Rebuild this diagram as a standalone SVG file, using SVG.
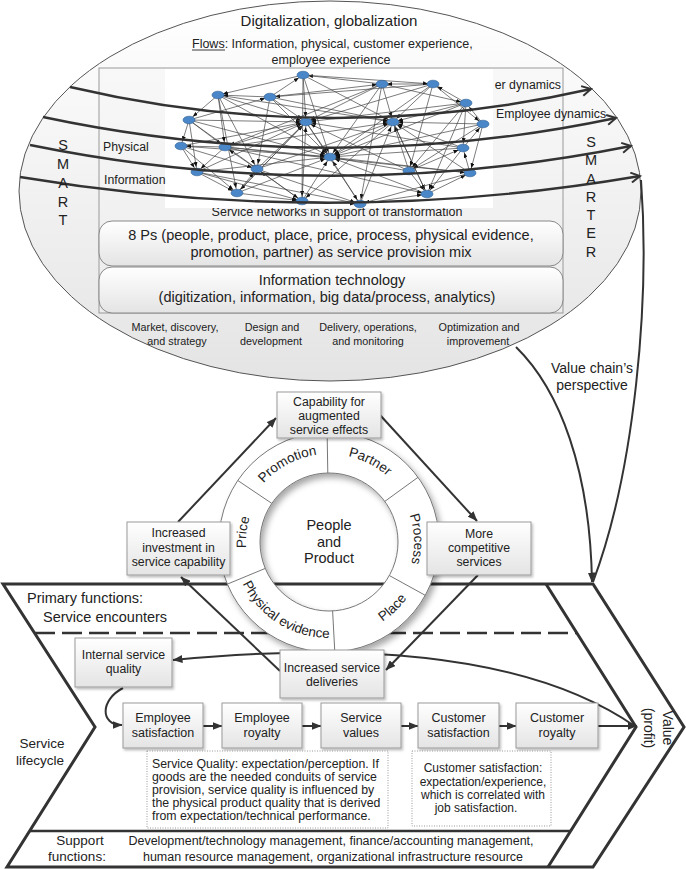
<svg xmlns="http://www.w3.org/2000/svg" width="686" height="869" viewBox="0 0 686 869">
<defs>
<linearGradient id="eg" x1="0" y1="0" x2="0" y2="1"><stop offset="0" stop-color="#ffffff"/><stop offset="1" stop-color="#e4e4e4"/></linearGradient>
<linearGradient id="fg" x1="0" y1="0" x2="0" y2="1"><stop offset="0" stop-color="#f8f8f8"/><stop offset="1" stop-color="#ececec"/></linearGradient>
<linearGradient id="bx" x1="0" y1="0" x2="0" y2="1"><stop offset="0" stop-color="#ffffff"/><stop offset="1" stop-color="#e4e4e4"/></linearGradient>
<filter id="sh" x="-10%" y="-10%" width="130%" height="140%"><feDropShadow dx="1.5" dy="2" stdDeviation="1.2" flood-color="#000" flood-opacity="0.25"/></filter>
<filter id="rsh" x="-10%" y="-10%" width="130%" height="130%"><feDropShadow dx="3" dy="4" stdDeviation="3" flood-color="#000" flood-opacity="0.35"/></filter>
<marker id="ah" viewBox="0 0 10 8" refX="9.5" refY="4" markerWidth="10" markerHeight="8" markerUnits="userSpaceOnUse" orient="auto"><path d="M0,0 L10,4 L0,8 z" fill="#333"/></marker>
<marker id="open" viewBox="0 0 12 12" refX="10" refY="6" markerWidth="12" markerHeight="12" markerUnits="userSpaceOnUse" orient="auto"><path d="M1,1 L10,6 L1,11" fill="none" stroke="#333" stroke-width="2"/></marker>
<marker id="na" viewBox="0 0 5 4" refX="10" refY="2" markerWidth="5" markerHeight="4" markerUnits="userSpaceOnUse" orient="auto"><path d="M0,0 L5,2 L0,4 z" fill="#111"/></marker>
<path id="pPromo" d="M246.3,511.9 A88,88 0 0 1 350.3,456.6"/>
<path id="pPartner" d="M306.2,457.0 A88,88 0 0 1 411.2,510.5"/>
<path id="pPrice" d="M264.0,593.7 A83,83 0 0 1 277.3,477.0"/>
<path id="pProcess" d="M387.0,479.8 A85,85 0 0 1 391.2,600.0"/>
<path id="pPlace" d="M327.3,638.0 A96,96 0 0 0 425.0,543.7"/>
<path id="pPhys" d="M233.1,538.6 A96,96 0 0 0 374.1,626.8"/>
</defs>
<style>
text{font-family:"Liberation Sans",Arial,sans-serif;fill:#222;}
.box{fill:url(#bx);stroke:#999;stroke-width:1;filter:url(#sh);}
.dot{fill:#fff;stroke:#999;stroke-width:1;stroke-dasharray:1 1.5;}
.e path{fill:none;}
.e{stroke:#444;stroke-width:0.7;marker-end:url(#na);}
.n{fill:#4a87c9;stroke:#2f5f93;stroke-width:0.6;}
.flow{fill:none;stroke:#333;stroke-width:2.4;marker-end:url(#open);}
.thick{fill:none;stroke:#333;stroke-width:2;marker-end:url(#ah);}
.chev{fill:none;stroke:#333;stroke-width:3;}
.c{text-anchor:middle;}
</style>
<rect width="686" height="869" fill="#fff"/>

<g id="context">
<ellipse cx="330" cy="191" rx="311" ry="190" fill="url(#eg)" stroke="#555" stroke-width="1"/>
<text class="c" x="329" y="26" font-size="15">Digitalization, globalization</text>
<text x="192" y="48" font-size="12.5">Flows: Information, physical, customer experience,</text>
<line x1="192" y1="50" x2="225" y2="50" stroke="#222" stroke-width="0.9"/>
<text class="c" x="331" y="64" font-size="12.5">employee experience</text>
</g>

<g id="frame">
<rect x="99" y="68" width="464" height="245" fill="url(#fg)" stroke="#999" stroke-width="1"/>
<text class="c" x="337" y="216" font-size="12.5">Service networks in support of transformation</text>
<rect x="165" y="69" width="328" height="139" fill="#fff"/>
</g>

<g id="network">
<g class="e">
<path d="M303 75L306 122"/><path d="M218 95L306 122"/><path d="M270 97L306 122"/><path d="M189 120L306 122"/><path d="M181 146L306 122"/><path d="M225 147L306 122"/><path d="M257 169L306 122"/><path d="M197 172L306 122"/><path d="M237 193L306 122"/><path d="M302 201L306 122"/><path d="M382 84L306 122"/><path d="M466 103L306 122"/><path d="M463 148L306 122"/><path d="M409 171L306 122"/><path d="M433 84L306 122"/>
<path d="M303 75L393 122"/><path d="M382 84L393 122"/><path d="M433 84L393 122"/><path d="M466 103L393 122"/><path d="M483 124L393 122"/><path d="M463 148L393 122"/><path d="M409 171L393 122"/><path d="M470 173L393 122"/><path d="M427 194L393 122"/><path d="M360 204L393 122"/><path d="M270 97L393 122"/><path d="M225 147L393 122"/><path d="M257 169L393 122"/><path d="M218 95L393 122"/>
<path d="M218 95L330 157"/><path d="M270 97L330 157"/><path d="M189 120L330 157"/><path d="M181 146L330 157"/><path d="M225 147L330 157"/><path d="M197 172L330 157"/><path d="M237 193L330 157"/><path d="M302 201L330 157"/><path d="M360 204L330 157"/><path d="M427 194L330 157"/><path d="M409 171L330 157"/><path d="M470 173L330 157"/><path d="M463 148L330 157"/><path d="M483 124L330 157"/><path d="M433 84L330 157"/><path d="M382 84L330 157"/><path d="M306 122L330 157"/><path d="M393 122L330 157"/><path d="M303 75L330 157"/><path d="M466 103L330 157"/>
<path d="M306 122L237 193"/><path d="M306 122L360 204"/><path d="M393 122L427 194"/><path d="M393 122L302 201"/>
<path d="M303 75L218 95"/><path d="M218 95L189 120"/><path d="M189 120L181 146"/><path d="M181 146L197 172"/><path d="M197 172L237 193"/><path d="M237 193L302 201"/><path d="M302 201L360 204"/><path d="M360 204L427 194"/><path d="M427 194L470 173"/><path d="M470 173L463 148"/><path d="M463 148L483 124"/><path d="M483 124L466 103"/><path d="M466 103L433 84"/><path d="M433 84L382 84"/><path d="M382 84L303 75"/>
<path d="M270 97L218 95"/><path d="M225 147L181 146"/><path d="M257 169L225 147"/><path d="M409 171L463 148"/><path d="M270 97L303 75"/><path d="M225 147L197 172"/><path d="M189 120L270 97"/><path d="M382 84L360 204"/><path d="M303 75L302 201"/><path d="M270 97L257 169"/><path d="M225 147L427 194"/><path d="M257 169L360 204"/><path d="M409 171L427 194"/><path d="M433 84L409 171"/><path d="M466 103L463 148"/><path d="M181 146L257 169"/><path d="M189 120L225 147"/><path d="M483 124L470 173"/><path d="M197 172L302 201"/><path d="M237 193L257 169"/><path d="M382 84L225 147"/><path d="M433 84L270 97"/><path d="M466 103L409 171"/><path d="M218 95L257 169"/><path d="M197 172L360 204"/><path d="M181 146L237 193"/><path d="M463 148L427 194"/><path d="M483 124L409 171"/><path d="M382 84L466 103"/><path d="M470 173L360 204"/><path d="M218 95L225 147"/><path d="M302 201L257 169"/><path d="M270 97L382 84"/><path d="M189 120L197 172"/><path d="M433 84L483 124"/><path d="M303 75L433 84"/><path d="M218 95L237 193"/><path d="M466 103L427 194"/><path d="M189 120L302 201"/><path d="M225 147L470 173"/>
</g>
<g class="n">
<ellipse cx="303" cy="75" rx="6" ry="3.8"/><ellipse cx="382" cy="84" rx="6" ry="3.8"/><ellipse cx="433" cy="84" rx="6" ry="3.8"/><ellipse cx="218" cy="95" rx="6" ry="3.8"/><ellipse cx="270" cy="97" rx="6" ry="3.8"/><ellipse cx="466" cy="103" rx="6" ry="3.8"/><ellipse cx="189" cy="120" rx="6" ry="3.8"/><ellipse cx="306" cy="122" rx="6" ry="3.8"/><ellipse cx="393" cy="122" rx="6" ry="3.8"/><ellipse cx="483" cy="124" rx="6" ry="3.8"/><ellipse cx="181" cy="146" rx="6" ry="3.8"/><ellipse cx="225" cy="147" rx="6" ry="3.8"/><ellipse cx="463" cy="148" rx="6" ry="3.8"/><ellipse cx="330" cy="157" rx="6" ry="3.8"/><ellipse cx="257" cy="169" rx="6" ry="3.8"/><ellipse cx="197" cy="172" rx="6" ry="3.8"/><ellipse cx="409" cy="171" rx="6" ry="3.8"/><ellipse cx="470" cy="173" rx="6" ry="3.8"/><ellipse cx="237" cy="193" rx="6" ry="3.8"/><ellipse cx="427" cy="194" rx="6" ry="3.8"/><ellipse cx="302" cy="201" rx="6" ry="3.8"/><ellipse cx="360" cy="204" rx="6" ry="3.8"/>
</g>
</g>

<g id="box-8ps">
<rect x="99" y="221" width="464" height="45" rx="13" fill="url(#bx)" stroke="#888"/>
<text class="c" x="331" y="240" font-size="14.5">8 Ps (people, product, place, price, process, physical evidence,</text>
<text class="c" x="331" y="257" font-size="14.5">promotion, partner) as service provision mix</text>
</g>
<g id="box-it">
<rect x="99" y="267" width="464" height="46" rx="13" fill="url(#bx)" stroke="#888"/>
<text class="c" x="332" y="285" font-size="14.5">Information technology</text>
<text class="c" x="327" y="302" font-size="14.5">(digitization, information, big data/process, analytics)</text>
</g>

<g id="flows">
<path class="flow" d="M70,87 Q330,148 591,89"/>
<path class="flow" d="M43,117 Q330,178 616,118"/>
<path class="flow" d="M30,145 Q330,206 631,146"/>
<path class="flow" d="M20,177 Q330,229 640,176"/>
<text x="561" y="89" font-size="12.3" text-anchor="end">er dynamics</text>
<text x="496" y="118" font-size="12.3">Employee dynamics</text>
<text x="103" y="151" font-size="12.3">Physical</text>
<text x="104" y="184" font-size="12.3">Information</text>
</g>

<g id="smart" font-size="14.5">
<text class="c" x="63" y="150">S</text><text class="c" x="63" y="169">M</text><text class="c" x="63" y="188">A</text><text class="c" x="63" y="207">R</text><text class="c" x="63" y="225">T</text>
</g>
<g id="smarter" font-size="14.5">
<text class="c" x="591" y="147">S</text><text class="c" x="591" y="165">M</text><text class="c" x="591" y="184">A</text><text class="c" x="591" y="202">R</text><text class="c" x="591" y="220">T</text><text class="c" x="591" y="238">E</text><text class="c" x="591" y="257">R</text>
</g>

<g id="phases" font-size="10.8">
<text class="c" x="175" y="331">Market, discovery,</text><text class="c" x="177" y="345">and strategy</text>
<text class="c" x="272" y="331">Design and</text><text class="c" x="271" y="345">development</text>
<text class="c" x="368" y="331">Delivery, operations,</text><text class="c" x="368" y="345">and monitoring</text>
<text class="c" x="479" y="331">Optimization and</text><text class="c" x="478" y="345">improvement</text>
</g>

<g id="value-chain-perspective">
<path d="M641,180 C650,300 635,470 593,582" fill="none" stroke="#333" stroke-width="2"/>
<path class="thick" d="M516,347 C560,390 590,470 592,582"/>
<text class="c" x="592" y="373" font-size="14">Value chain’s</text>
<text class="c" x="592" y="390" font-size="14">perspective</text>
</g>

<g id="chevron">
<path class="chev" d="M3,584 L593,584 L684,727 L593,867 L7,867 L95,727 Z"/>
<path class="chev" d="M546,584 L636,727 L548,867"/>
<line x1="30" y1="831" x2="571" y2="831" stroke="#333" stroke-width="2.5"/>
<line x1="35" y1="633" x2="577" y2="633" stroke="#333" stroke-width="2.5" stroke-dasharray="20 7"/>
<text x="27" y="603" font-size="14.5">Primary functions:</text>
<text x="43" y="622" font-size="14.5">Service encounters</text>
<text class="c" x="42" y="748" font-size="13.5">Service</text>
<text class="c" x="40" y="765" font-size="13.5">lifecycle</text>
<text class="c" x="80" y="845" font-size="13.5">Support</text>
<text class="c" x="77" y="861" font-size="13.5">functions:</text>
<text class="c" x="331" y="845" font-size="12.5">Development/technology management, finance/accounting management,</text>
<text class="c" x="333" y="861" font-size="12.5">human resource management, organizational infrastructure resource</text>
<text class="c" transform="translate(663,728) rotate(90)" font-size="14">Value</text>
<text class="c" transform="translate(644,728) rotate(90)" font-size="14">(profit)</text>
</g>

<g id="ring">
<path d="M219,542 a110,110 0 1,0 220,0 a110,110 0 1,0 -220,0 Z M260,542 a69,69 0 1,0 138,0 a69,69 0 1,0 -138,0 Z" fill="#fff" fill-rule="evenodd" stroke="#777" stroke-width="1" filter="url(#rsh)"/>
<g stroke="#777" stroke-width="1">
<line x1="327.8" y1="473.0" x2="327.1" y2="432.0"/>
<line x1="271.8" y1="503.4" x2="237.8" y2="480.5"/>
<line x1="265.3" y1="568.4" x2="227.4" y2="584.1"/>
<line x1="332.6" y1="610.9" x2="334.8" y2="651.8"/>
<line x1="389.3" y1="575.5" x2="425.2" y2="595.3"/>
<line x1="384.8" y1="501.4" x2="418.0" y2="477.3"/>
</g>
<g font-size="13.5">
<text><textPath href="#pPromo" startOffset="50%" text-anchor="middle">Promotion</textPath></text>
<text><textPath href="#pPartner" startOffset="50%" text-anchor="middle">Partner</textPath></text>
<text><textPath href="#pPrice" startOffset="50%" text-anchor="middle">Price</textPath></text>
<text><textPath href="#pProcess" startOffset="50%" text-anchor="middle">Process</textPath></text>
<text><textPath href="#pPlace" startOffset="50%" text-anchor="middle">Place</textPath></text>
<text><textPath href="#pPhys" startOffset="50%" text-anchor="middle">Physical evidence</textPath></text>
</g>
<text class="c" x="329" y="530" font-size="14.5">People</text>
<text class="c" x="329" y="547" font-size="14.5">and</text>
<text class="c" x="329" y="563" font-size="14.5">Product</text>
</g>

<g id="connectors">
<path class="thick" d="M178,522 L276,418"/>
<path class="thick" d="M380,415 L477,521"/>
<path class="thick" d="M478,575 L386,670"/>
<path class="thick" d="M280,671 L181,577"/>
<path class="thick" d="M636,727 C540,660 380,640 173,660"/>
<path class="thick" d="M123,688 C100,700 100,725 122,725"/>
<path class="thick" d="M203,726 L222,726"/>
<path class="thick" d="M302,726 L321,726"/>
<path class="thick" d="M401,726 L418,726"/>
<path class="thick" d="M499,726 L516,726"/>
<path class="thick" d="M598,726 L637,726"/>
</g>

<g id="capability"><rect class="box" x="277" y="392" width="104" height="46"/>
<text class="c" x="329" y="405.5" font-size="12.3">Capability for</text><text class="c" x="329" y="419.5" font-size="12.3">augmented</text><text class="c" x="329" y="433.5" font-size="12.3">service effects</text></g>

<g id="investment"><rect class="box" x="127" y="522" width="103" height="53"/>
<text class="c" x="178.5" y="537" font-size="12.3">Increased</text><text class="c" x="178.5" y="552" font-size="12.3">investment in</text><text class="c" x="178.5" y="566" font-size="12.3">service capability</text></g>

<g id="competitive"><rect class="box" x="427" y="522" width="104" height="53"/>
<text class="c" x="479" y="538" font-size="12.3">More</text><text class="c" x="479" y="552" font-size="12.3">competitive</text><text class="c" x="479" y="566" font-size="12.3">services</text></g>

<g id="deliveries"><rect class="box" x="280" y="650" width="104" height="48"/>
<text class="c" x="332" y="672" font-size="12.3">Increased service</text><text class="c" x="332" y="686" font-size="12.3">deliveries</text></g>

<g id="internal"><rect class="box" x="75" y="638" width="97" height="49"/>
<text class="c" x="123.5" y="659" font-size="12.3">Internal service</text><text class="c" x="123.5" y="673" font-size="12.3">quality</text></g>

<g id="emp-sat"><rect class="box" x="123" y="703" width="80" height="45"/>
<text class="c" x="163" y="722" font-size="12.5">Employee</text><text class="c" x="163" y="737" font-size="12.5">satisfaction</text></g>
<g id="emp-roy"><rect class="box" x="222" y="703" width="80" height="45"/>
<text class="c" x="262" y="722" font-size="12.5">Employee</text><text class="c" x="262" y="737" font-size="12.5">royalty</text></g>
<g id="svc-val"><rect class="box" x="321" y="703" width="80" height="45"/>
<text class="c" x="361" y="722" font-size="12.5">Service</text><text class="c" x="361" y="737" font-size="12.5">values</text></g>
<g id="cus-sat"><rect class="box" x="418" y="703" width="81" height="45"/>
<text class="c" x="458.5" y="722" font-size="12.5">Customer</text><text class="c" x="458.5" y="737" font-size="12.5">satisfaction</text></g>
<g id="cus-roy"><rect class="box" x="516" y="703" width="82" height="45"/>
<text class="c" x="557" y="722" font-size="12.5">Customer</text><text class="c" x="557" y="737" font-size="12.5">royalty</text></g>

<g id="note-quality"><rect class="dot" x="147" y="751" width="241" height="77"/>
<g font-size="12.3"><text x="152" y="768">Service Quality: expectation/perception. If</text>
<text x="152" y="781">goods are the needed conduits of service</text>
<text x="152" y="794">provision, service quality is influenced by</text>
<text x="152" y="807">the physical product quality that is derived</text>
<text x="152" y="819.5">from expectation/technical performance.</text></g></g>

<g id="note-customer"><rect class="dot" x="412" y="751" width="139" height="75"/>
<g font-size="12"><text class="c" x="483" y="772">Customer satisfaction:</text>
<text class="c" x="483" y="785.5">expectation/experience,</text>
<text class="c" x="483" y="798.5">which is correlated with</text>
<text class="c" x="476" y="812">job satisfaction.</text></g></g>
</svg>
